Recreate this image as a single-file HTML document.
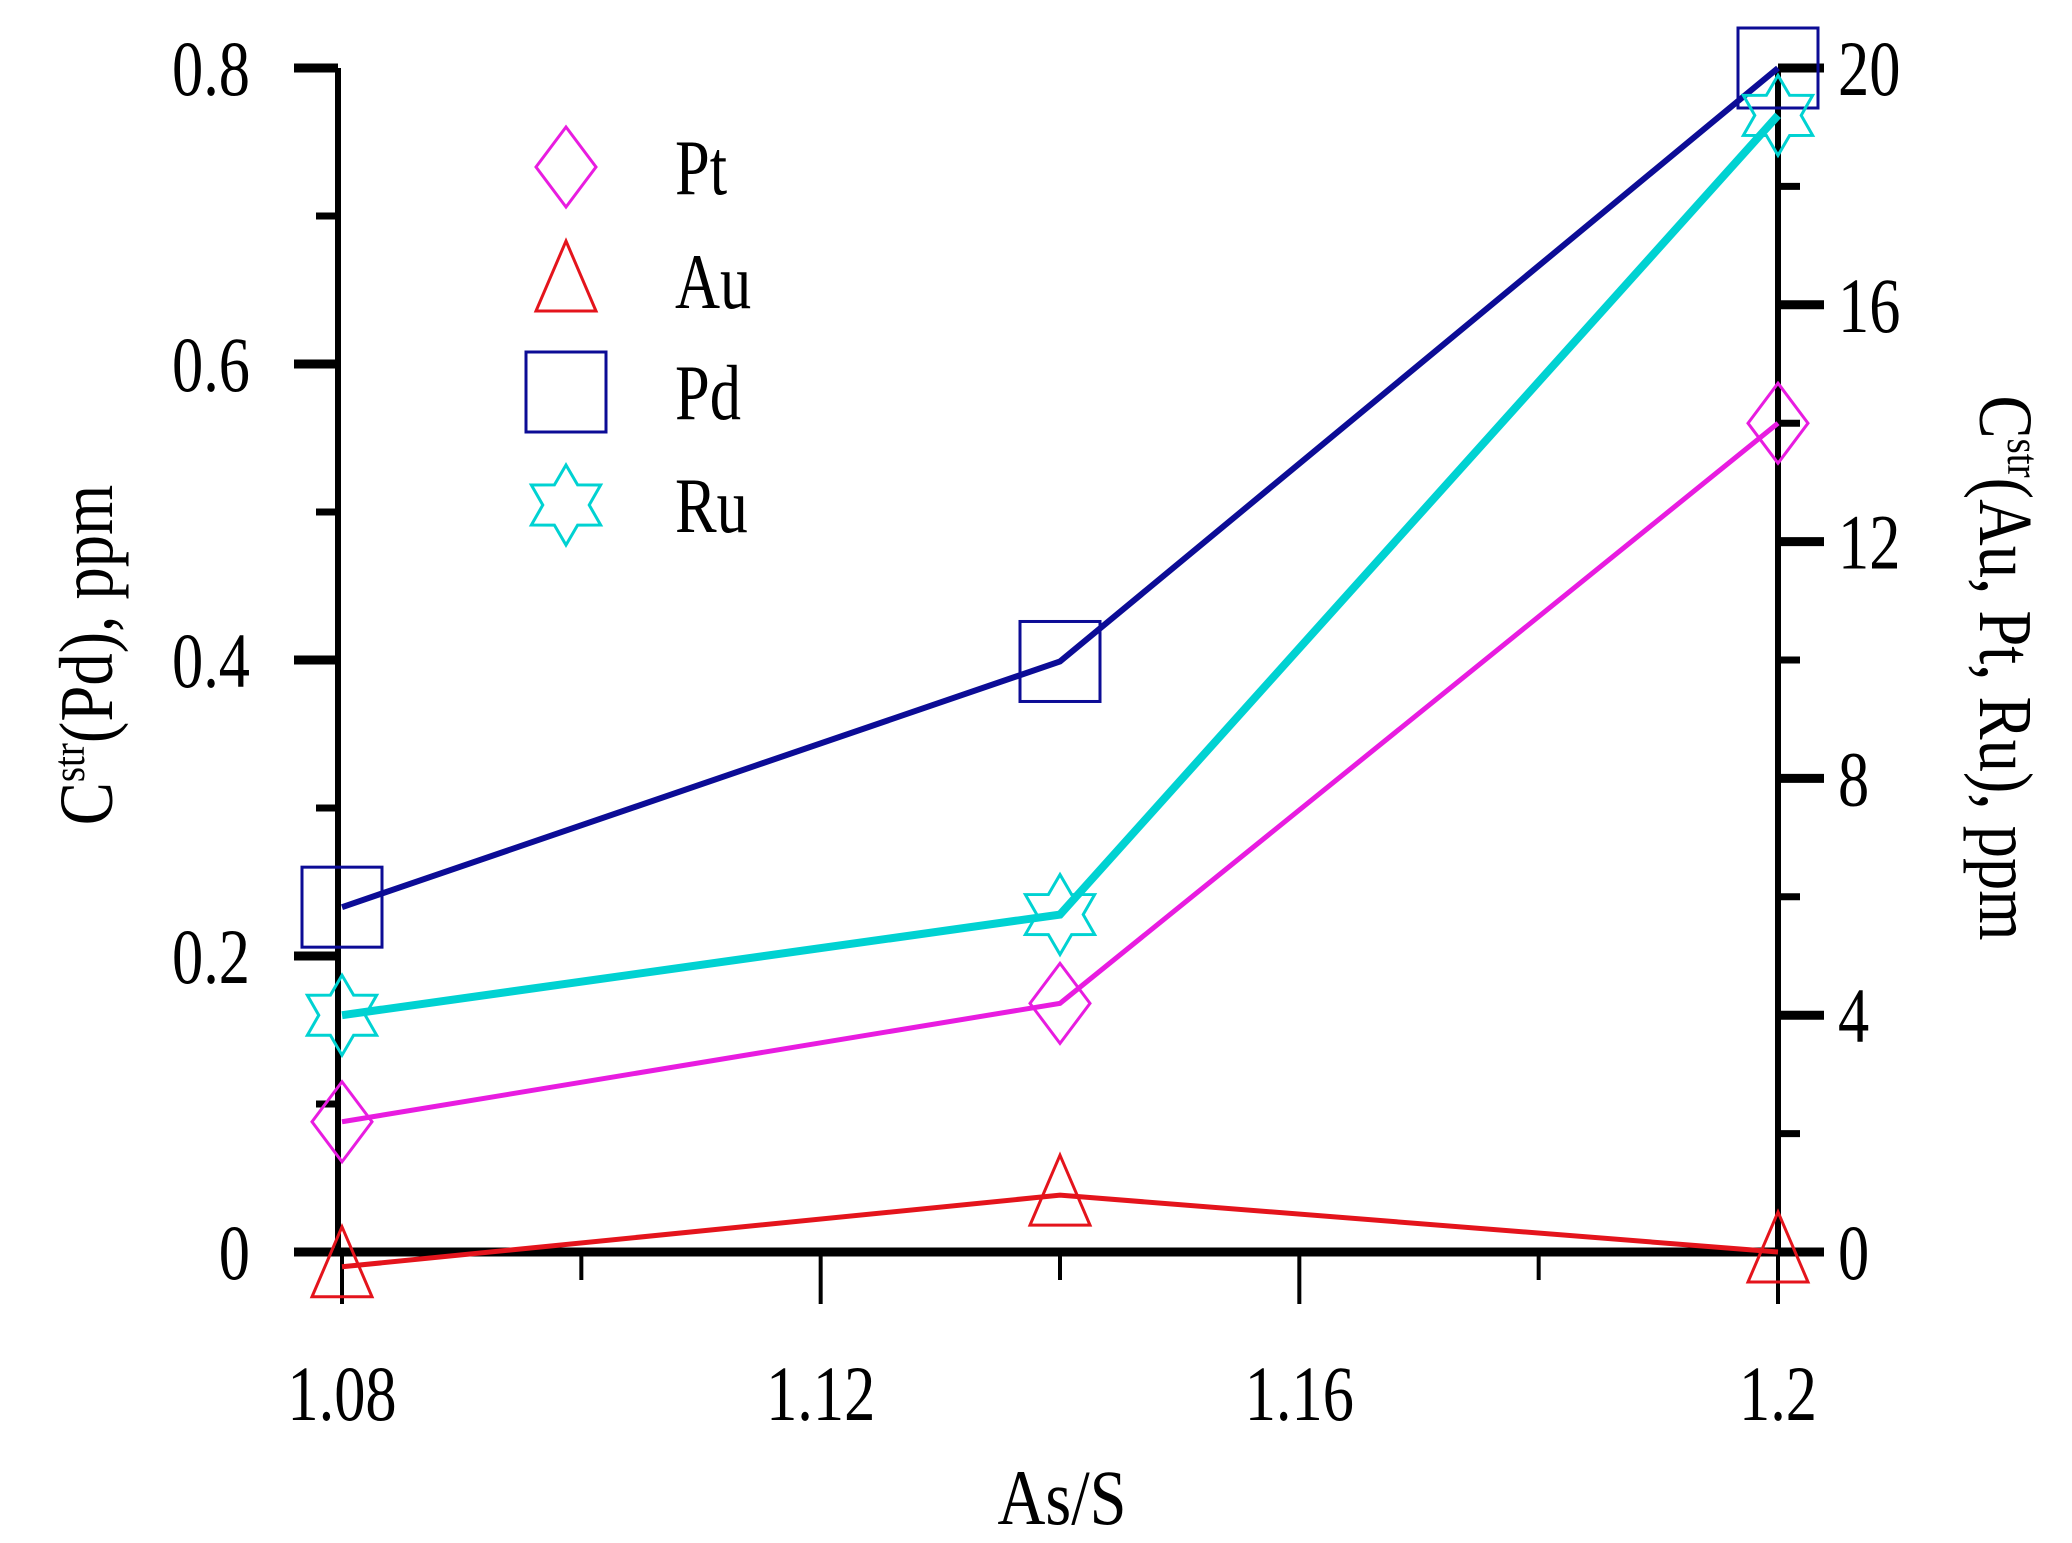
<!DOCTYPE html>
<html><head><meta charset="utf-8"><style>
html,body{margin:0;padding:0;background:#fff}
svg text{font-family:"Liberation Serif",serif;fill:#000}
</style></head><body>
<svg id="chart" width="2072" height="1538" viewBox="0 0 2072 1538" xmlns="http://www.w3.org/2000/svg">
<g id="axes"></g>
<g id="series"></g>
<g id="legend"></g>
<text transform="translate(1062,1524) scale(0.85,1)" font-size="78" text-anchor="middle">As/S</text>
<text transform="translate(112,655) rotate(-90) scale(0.85,1)" font-size="76" text-anchor="middle">C<tspan font-size="46" dy="-28">str</tspan><tspan dy="28">(Pd), ppm</tspan></text>
<text transform="translate(1980,668) rotate(90) scale(0.85,1)" font-size="76" text-anchor="middle">C<tspan font-size="46" dy="-28">str</tspan><tspan dy="28">(Au, Pt, Ru), ppm</tspan></text>
</svg>
<script>
const xValues = [1.08, 1.14, 1.2];
const pdValues = [0.233, 0.399, 0.80];
const ptValues = [2.2, 4.2, 14.0];
const auValues = [-0.25, 0.96, 0.0];
const ruValues = [4.0, 5.7, 19.2];
const xTicks = [1.08, 1.12, 1.16, 1.2];
const xTickLabels = ["1.08", "1.12", "1.16", "1.2"];
const leftTicks = [0, 0.2, 0.4, 0.6, 0.8];
const leftTickLabels = ["0", "0.2", "0.4", "0.6", "0.8"];
const rightTicks = [0, 4, 8, 12, 16, 20];
const rightTickLabels = ["0", "4", "8", "12", "16", "20"];

const NS = "http://www.w3.org/2000/svg";
const X0 = 342, X1 = 1778, Y0 = 1252, Y1 = 68;
const xs = v => X0 + (v - 1.08) / (1.2 - 1.08) * (X1 - X0);
const yl = v => Y0 - v / 0.8 * (Y0 - Y1);
const yr = v => Y0 - v / 20 * (Y0 - Y1);
function mk(tag, attrs, parent) {
  const e = document.createElementNS(NS, tag);
  for (const k in attrs) e.setAttribute(k, attrs[k]);
  parent.appendChild(e);
  return e;
}
function txt(x, y, s, anchor, parent) {
  const e = mk("text", {transform: `translate(${x},${y}) scale(0.8,1)`, "font-size": 78, "text-anchor": anchor}, parent);
  e.textContent = s;
  return e;
}
const axes = document.getElementById("axes");
const series = document.getElementById("series");
const legend = document.getElementById("legend");
const LXA = 338;

let el = mk("line", {x1: LXA, y1: Y1, x2: LXA, y2: Y0, stroke: "#000", "stroke-width": 6}, axes);


el = mk("line", {x1: X1, y1: Y1, x2: X1, y2: Y0, stroke: "#000", "stroke-width": 6}, axes);


el = mk("line", {x1: 294, y1: Y0, x2: 1824, y2: Y0, stroke: "#000", "stroke-width": 9}, axes);



xTicks.forEach((t, i) => {
  const x = xs(t);
  let e = mk("line", {x1: x, y1: Y0, x2: x, y2: Y0 + 52, stroke: "#000", "stroke-width": 4}, axes);
  
  
  e = txt(x, 1420, xTickLabels[i], "middle", axes);
  
  
  if (i < xTicks.length - 1) {
    const xm = xs(t + 0.02);
    e = mk("line", {x1: xm, y1: Y0, x2: xm, y2: Y0 + 28, stroke: "#000", "stroke-width": 4}, axes);
    
    
  }
});
leftTicks.forEach((t, i) => {
  const y = yl(t);
  let e = mk("line", {x1: 294, y1: y, x2: LXA, y2: y, stroke: "#000", "stroke-width": 9}, axes);
  
  
  e = txt(250, y + 27, leftTickLabels[i], "end", axes);
  
  
  if (i < leftTicks.length - 1) {
    const ym = yl(t + 0.1);
    e = mk("line", {x1: 316, y1: ym, x2: LXA, y2: ym, stroke: "#000", "stroke-width": 7}, axes);
    
    
  }
});
rightTicks.forEach((t, i) => {
  const y = yr(t);
  let e = mk("line", {x1: X1, y1: y, x2: 1824, y2: y, stroke: "#000", "stroke-width": 9}, axes);
  
  
  e = txt(1838, y + 27, rightTickLabels[i], "start", axes);
  
  
  if (i < rightTicks.length - 1) {
    const ym = yr(t + 2);
    e = mk("line", {x1: X1, y1: ym, x2: 1800, y2: ym, stroke: "#000", "stroke-width": 7}, axes);
    
    
  }
});

function marker(type, cx, cy, color, parent) {
  let e;
  if (type === "square") {
    e = mk("rect", {x: cx - 40, y: cy - 40, width: 80, height: 80, fill: "none", stroke: color, "stroke-width": 3}, parent);
  } else if (type === "diamond") {
    e = mk("polygon", {points: `${cx},${cy-40} ${cx+30},${cy} ${cx},${cy+40} ${cx-30},${cy}`, fill: "none", stroke: color, "stroke-width": 3}, parent);
  } else if (type === "triangle") {
    e = mk("polygon", {points: `${cx},${cy-40} ${cx+30},${cy+30} ${cx-30},${cy+30}`, fill: "none", stroke: color, "stroke-width": 3}, parent);
  } else {
    const a = 40, pts = [];
    for (let k = 0; k < 6; k++) {
      const ang = -Math.PI / 2 + k * Math.PI / 3;
      pts.push(`${cx + a * Math.cos(ang)},${cy + a * Math.sin(ang)}`);
      const ang2 = ang + Math.PI / 6;
      pts.push(`${cx + a * 0.58 * Math.cos(ang2)},${cy + a * 0.58 * Math.sin(ang2)}`);
    }
    e = mk("polygon", {points: pts.join(" "), fill: "none", stroke: color, "stroke-width": 3}, parent);
  }
  return e;
}

const defs = [
  {name: "pd", vals: pdValues, scale: yl, color: "#0c0c96", type: "square", w: 6},
  {name: "ru", vals: ruValues, scale: yr, color: "#00d2d2", type: "star", w: 8},
  {name: "pt", vals: ptValues, scale: yr, color: "#e81ce0", type: "diamond", w: 5},
  {name: "au", vals: auValues, scale: yr, color: "#e4141c", type: "triangle", w: 5}
];
defs.forEach(s => {
  const pts = xValues.map((x, i) => `${xs(x)},${s.scale(s.vals[i])}`).join(" ");
  let e = mk("polyline", {points: pts, fill: "none", stroke: s.color, "stroke-width": s.w}, series);
  
  
  xValues.forEach((x, i) => {
    const m = marker(s.type, xs(x), s.scale(s.vals[i]), s.color, series);
    
    
  });
});

const legItems = [["Pt", "diamond", "#e81ce0", 167], ["Au", "triangle", "#e4141c", 281], ["Pd", "square", "#0c0c96", 392], ["Ru", "star", "#00d2d2", 505]];
legItems.forEach(it => {
  const m = marker(it[1], 566, it[3], it[2], legend);
  
  
  const t = txt(675, it[3] + 27, it[0], "start", legend);
  
  
});
</script>
</body></html>
